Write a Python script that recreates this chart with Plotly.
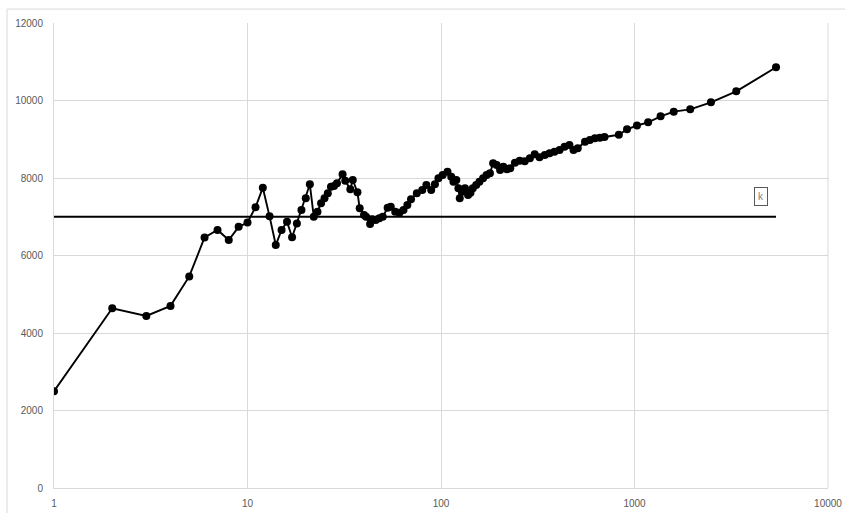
import math
import plotly.graph_objects as go

# Measured series: sample size n (log scale) against value
n_values = [1, 2, 3, 4, 5, 6, 7, 8, 9, 10, 11, 12, 13, 14, 15, 16, 17, 18, 19, 20,
            21, 22, 23, 24, 25, 26, 27, 28, 29, 31, 32, 34, 35, 37, 38, 40, 41, 43, 44, 46,
            48, 50, 53, 55, 58, 61, 64, 67, 70, 75, 80, 84, 89, 93, 97, 102, 108, 113, 116, 120,
            123, 125, 129, 133, 138, 142, 146, 152, 158, 165, 172, 179, 186, 194, 202, 210, 219, 228, 241, 255,
            271, 288, 305, 323, 344, 364, 386, 410, 435, 461, 484, 509, 555, 588, 624, 662, 700, 830, 915, 1030,
            1176, 1364, 1595, 1940, 2484, 3357, 5388]
values = [2500, 4640, 4440, 4700, 5460, 6465, 6660, 6400, 6740, 6850, 7245, 7750, 7010, 6270, 6660, 6870, 6470, 6825, 7175, 7477,
          7838, 7003, 7132, 7348, 7477, 7606, 7777, 7794, 7863, 8095, 7930, 7708, 7948, 7631, 7218, 7045, 7001, 6813, 6934, 6916,
          6960, 7001, 7234, 7260, 7130, 7105, 7174, 7303, 7450, 7605, 7690, 7820, 7690, 7840, 7992, 8077, 8163, 8034, 7905, 7948,
          7734, 7476, 7647, 7734, 7561, 7620, 7734, 7820, 7905, 7992, 8077, 8120, 8379, 8335, 8206, 8292, 8224, 8250, 8395, 8446,
          8430, 8507, 8611, 8533, 8594, 8637, 8680, 8723, 8808, 8852, 8723, 8766, 8937, 8981, 9024, 9040, 9060, 9115, 9257, 9355,
          9437, 9592, 9712, 9772, 9953, 10237, 10857]

# Reference level k
k_level = 7000
k_label = "k"
k_label_pos = 4508

x_ticks = [1, 10, 100, 1000, 10000]
x_tick_text = ["1", "10", "100", "1000", "10000"]
y_ticks = [0, 2000, 4000, 6000, 8000, 10000, 12000]
y_tick_text = ["0", "2000", "4000", "6000", "8000", "10000", "12000"]

grid = "#d9d9d9"
tick_font = dict(family="Liberation Sans Narrow, Liberation Sans, Arial", size=10, color="#595959")

fig = go.Figure()

fig.add_trace(go.Scatter(
    x=[n_values[0], n_values[-1]], y=[k_level, k_level],
    mode="lines", line=dict(color="black", width=2),
    hoverinfo="skip", showlegend=False,
))

fig.add_trace(go.Scatter(
    x=n_values, y=values, mode="lines+markers",
    line=dict(color="black", width=1.9),
    marker=dict(color="black", size=8),
    showlegend=False,
))

fig.add_annotation(
    x=math.log10(k_label_pos), y=7510, xref="x", yref="y", text=k_label,
    showarrow=False, font=dict(family="Liberation Sans", size=10, color="#7f7f7f"),
    bordercolor="#595959", borderwidth=1, borderpad=3, bgcolor="white",
)

# outer chart-area frame
fig.add_shape(type="rect", xref="paper", yref="paper",
              x0=-0.0607, x1=1.2, y0=-0.2, y1=1.030,
              line=dict(color=grid, width=1), layer="below")

# right-hand border of plot region
fig.add_shape(type="line", xref="paper", yref="paper", x0=1, x1=1, y0=0, y1=1,
              line=dict(color=grid, width=1), layer="below")

fig.update_layout(
    width=845, height=513,
    margin=dict(l=54, r=17, t=23, b=25, autoexpand=False),
    paper_bgcolor="white", plot_bgcolor="white",
    xaxis=dict(type="log", range=[0, 4], tickvals=x_ticks, ticktext=x_tick_text,
               showgrid=True, gridcolor=grid, gridwidth=1,
               showline=True, linecolor=grid, linewidth=1,
               zeroline=False, ticks="", tickfont=tick_font, ticklabelstandoff=6,
               automargin=False),
    yaxis=dict(range=[0, 12000], tickvals=y_ticks, ticktext=y_tick_text,
               showgrid=True, gridcolor=grid, gridwidth=1,
               showline=True, linecolor=grid, linewidth=1,
               zeroline=False, ticks="", tickfont=tick_font, ticklabelstandoff=8,
               automargin=False),
)

fig.write_html("out.html")
